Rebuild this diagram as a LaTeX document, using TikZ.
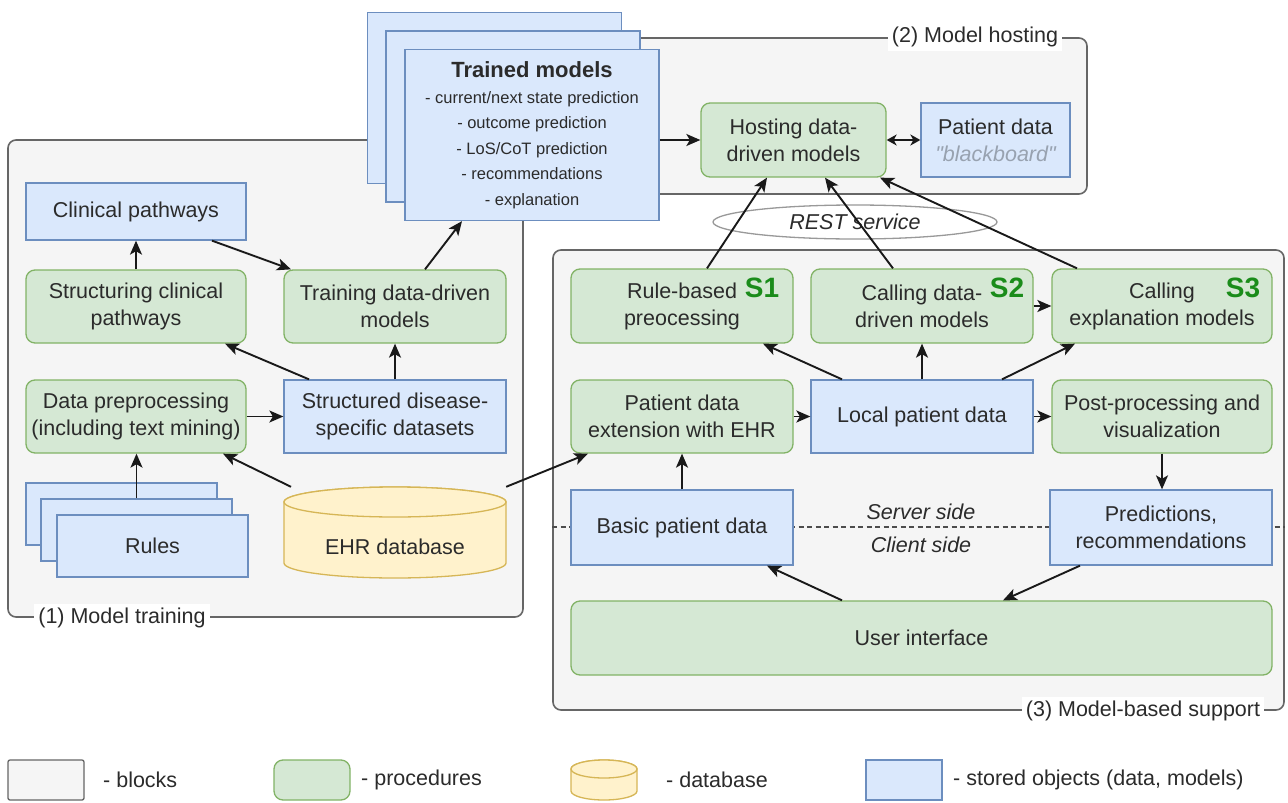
\documentclass[tikz,border=0pt]{standalone}
\usepackage{fontspec}
\setmainfont{Liberation Sans}
\usetikzlibrary{shapes.geometric,arrows.meta,calc}
\definecolor{blkfill}{HTML}{F5F5F5}
\definecolor{blkdraw}{HTML}{666666}
\definecolor{gfill}{HTML}{D5E8D4}
\definecolor{gdraw}{HTML}{82B366}
\definecolor{bfill}{HTML}{DAE8FC}
\definecolor{bdraw}{HTML}{6C8EBF}
\definecolor{yfill}{HTML}{FFF2CC}
\definecolor{ydraw}{HTML}{D6B656}
\definecolor{txt}{HTML}{2B2B2B}
\definecolor{sgreen}{HTML}{1A8C1A}
\definecolor{bbgray}{HTML}{98A2B0}
\begin{document}
\begin{tikzpicture}[x=1pt,y=-1pt,
  every node/.style={font=\fontsize{21.5}{27}\selectfont, text=txt},
  block/.style={draw=blkdraw, fill=blkfill, line width=1.6pt, rounded corners=8pt, inner sep=0pt},
  proc/.style={draw=gdraw, fill=gfill, line width=1.3pt, rounded corners=9pt, align=center, inner sep=0pt},
  store/.style={draw=bdraw, fill=bfill, line width=1.3pt, align=center, inner sep=0pt},
  dbshape/.style={draw=ydraw, fill=yfill, line width=1.3pt},
  arr/.style={line width=1.9pt, draw=black!90, -{Stealth[length=14pt,width=12pt,inset=3.5pt]}},
  darr/.style={line width=1.9pt, draw=black!90, {Stealth[length=10pt,width=11pt,inset=3pt]}-{Stealth[length=10pt,width=11pt,inset=3pt]}},
  blabel/.style={fill=white, inner sep=4pt},
  slabel/.style={font=\fontsize{28}{28}\selectfont\bfseries, text=sgreen, inner sep=0pt},
  itext/.style={font=\fontsize{21.5}{27}\selectfont\itshape},
]
\fill[white] (0,0) rectangle (1288,803);
\useasboundingbox (0,0) rectangle (1288,803);

% ---- blocks
\node[block, minimum width=515pt, minimum height=477pt] (blk1) at (265.5,378.5) {};
\node[block, minimum width=667pt, minimum height=156pt] (blk2) at (753.5,116) {};
\node[block, minimum width=731pt, minimum height=460pt] (blk3) at (918.5,480) {};
\node[blabel] (lab1) at ([xshift=-143.5pt]blk1.south) {(1) Model training};
\node[blabel] (lab2) at ([xshift=221.5pt]blk2.north) {(2) Model hosting};
\node[blabel] (lab3) at ([xshift=224.5pt]blk3.south) {(3) Model-based support};

% ---- trained models stack
\node[store, minimum width=254pt, minimum height=171pt] (tmB) at (494.5,98) {};
\node[store, minimum width=254pt, minimum height=171pt] (tmM) at (513,116.5) {};
\node[store, minimum width=254pt, minimum height=171pt, font=\fontsize{16.5}{25.5}\selectfont] (tmF) at (532,135)
 {{\fontsize{22}{26}\selectfont\bfseries Trained models}\\- current/next state prediction\\- outcome prediction\\- LoS/CoT prediction\\- recommendations\\- explanation};

% ---- hosting
\node[proc, minimum width=185pt, minimum height=74pt] (host) at (793.5,140) {Hosting data-\\driven models};
\node[store, minimum width=149pt, minimum height=74pt] (pdata) at (995.5,140) {Patient data\\{\itshape\color{bbgray}\textquotedbl blackboard\textquotedbl}};
\node[ellipse, draw=black!40, fill=white, line width=1.3pt, minimum width=284pt, minimum height=34pt, inner sep=0pt, itext] (rest) at (855,222) {REST service};

% ---- model training
\node[store, minimum width=220pt, minimum height=57pt] (clin) at (136,211.5) {Clinical pathways};
\node[proc, minimum width=220pt, minimum height=73pt] (struct) at (136,306.5) {Structuring clinical\\pathways};
\node[proc, minimum width=222pt, minimum height=73pt] (train) at (395,306.5) {Training data-driven\\models};
\node[proc, minimum width=220pt, minimum height=73pt] (preproc) at (136,416.5) {Data preprocessing\\(including text mining)};
\node[store, minimum width=222pt, minimum height=73pt] (sdata) at (395,416.5) {Structured disease-\\specific datasets};
\node[store, minimum width=191pt, minimum height=62pt] (rulesB) at (121.5,514) {};
\node[store, minimum width=191pt, minimum height=62pt] (rulesM) at (136.5,530) {};
\node[store, minimum width=191pt, minimum height=62pt] (rulesF) at (152.5,546) {Rules};
% EHR cylinder
\path[dbshape] (284,502) -- (284,563) arc[start angle=180,end angle=360,x radius=111pt,y radius=15pt]
  -- (506,502) arc[start angle=0,end angle=180,x radius=111pt,y radius=15pt] -- cycle;
\draw[dbshape] (395,502) ellipse[x radius=111pt,y radius=15pt];
\node[minimum width=222pt, minimum height=91pt, inner sep=0pt] (ehr) at (395,532.5) {};
\node (ehrtxt) at ($(ehr.center)+(0,14.5)$) {EHR database};

% ---- model-based support
\draw[dash pattern=on 5pt off 3.5pt, line width=1.4pt, draw=black!70] (blk3.west |- 0,527) -- (blk3.east |- 0,527);
\node[proc, minimum width=222pt, minimum height=74pt] (s1) at (682,306) {Rule-based\\preocessing};
\node[proc, minimum width=222pt, minimum height=74pt] (s2) at (922,306) {Calling data-\\driven models};
\node[proc, minimum width=220pt, minimum height=74pt] (s3) at (1162,306) {Calling\\explanation models};
\node[slabel] (s1l) at (762,288) {S1};
\node[slabel] (s2l) at (1007,288) {S2};
\node[slabel] (s3l) at (1243,288) {S3};
\node[proc, minimum width=222pt, minimum height=73pt] (ext) at (682,416.5) {Patient data\\extension with EHR};
\node[store, minimum width=222pt, minimum height=73pt] (local) at (922,416.5) {Local patient data};
\node[proc, minimum width=220pt, minimum height=73pt] (post) at (1162,416.5) {Post-processing and\\visualization};
\node[store, minimum width=222pt, minimum height=75pt] (basic) at (682,527.5) {Basic patient data};
\node[store, minimum width=222pt, minimum height=75pt] (pred) at (1161,527.5) {Predictions,\\recommendations};
\node[itext] (server) at (921,512) {Server side};
\node[itext] (client) at (921,545) {Client side};
\node[proc, minimum width=701pt, minimum height=74pt] (ui) at (921.5,638) {User interface};

% ---- connectors
\draw[arr] (struct.north) -- (clin.south);
\draw[arr] ([xshift=76pt]clin.south) -- ([xshift=-104pt]train.north);
\draw[arr] ([xshift=30pt]train.north) -- ([xshift=-70pt]tmF.south);
\draw[arr] (sdata.north) -- (train.south);
\draw[arr] ([xshift=-86pt]sdata.north) -- ([xshift=89pt]struct.south);
\draw[arr] (preproc.east) -- (sdata.west);
\draw[arr] (rulesM.north) -- (rulesM.north |- preproc.south);
\draw[arr] ([xshift=-104pt]ehr.north) -- ([xshift=87pt]preproc.south);
\draw[arr] (ehr.north east) -- ([xshift=-94pt]ext.south);
\draw[arr] (tmF.east |- host.west) -- (host.west);
\draw[darr] (host.east) -- (pdata.west);
\draw[arr] ([xshift=25pt]s1.north) -- ([xshift=-26.5pt]host.south);
\draw[arr] ([xshift=-29pt]s2.north) -- ([xshift=31.5pt]host.south);
\draw[arr] ([xshift=-85pt]s3.north) -- ([xshift=86.5pt]host.south);
\draw[arr] (s2.east) -- (s3.west);
\draw[arr] ([xshift=-80pt]local.north) -- ([xshift=81pt]s1.south);
\draw[arr] (local.north) -- (s2.south);
\draw[arr] ([xshift=80pt]local.north) -- ([xshift=-87pt]s3.south);
\draw[arr] (ext.east) -- (local.west);
\draw[arr] (local.east) -- (post.west);
\draw[arr] (post.south) -- (post.south |- pred.north);
\draw[arr] (basic.north) -- (ext.south);
\draw[arr] ([xshift=-79.5pt]ui.north) -- ([xshift=85pt]basic.south);
\draw[arr] ([xshift=-81pt]pred.south) -- ([xshift=81.5pt]ui.north);

% ---- legend
\node[block, line width=1.3pt, rounded corners=2pt, minimum width=76pt, minimum height=40pt] (lgblk) at (46,780) {};
\node[anchor=west, inner sep=0pt] (lgblkt) at (103,780) {- blocks};
\node[proc, minimum width=76pt, minimum height=40pt] (lgproc) at (312,780) {};
\node[anchor=west, inner sep=0pt] (lgproct) at (361,780) {- procedures};
\path[dbshape] (571,769) -- (571,791) arc[start angle=180,end angle=360,x radius=33pt,y radius=9pt]
  -- (637,769) arc[start angle=0,end angle=180,x radius=33pt,y radius=9pt] -- cycle;
\draw[dbshape] (604,769) ellipse[x radius=33pt,y radius=9pt];
\node[minimum width=66pt, minimum height=40pt, inner sep=0pt] (lgdb) at (604,780) {};
\node[anchor=west, inner sep=0pt] (lgdbt) at (666,780) {- database};
\node[store, minimum width=76pt, minimum height=40pt] (lgstore) at (904,780) {};
\node[anchor=west, inner sep=0pt] (lgstoret) at (953,780) {- stored objects (data, models)};
\end{tikzpicture}
\end{document}
